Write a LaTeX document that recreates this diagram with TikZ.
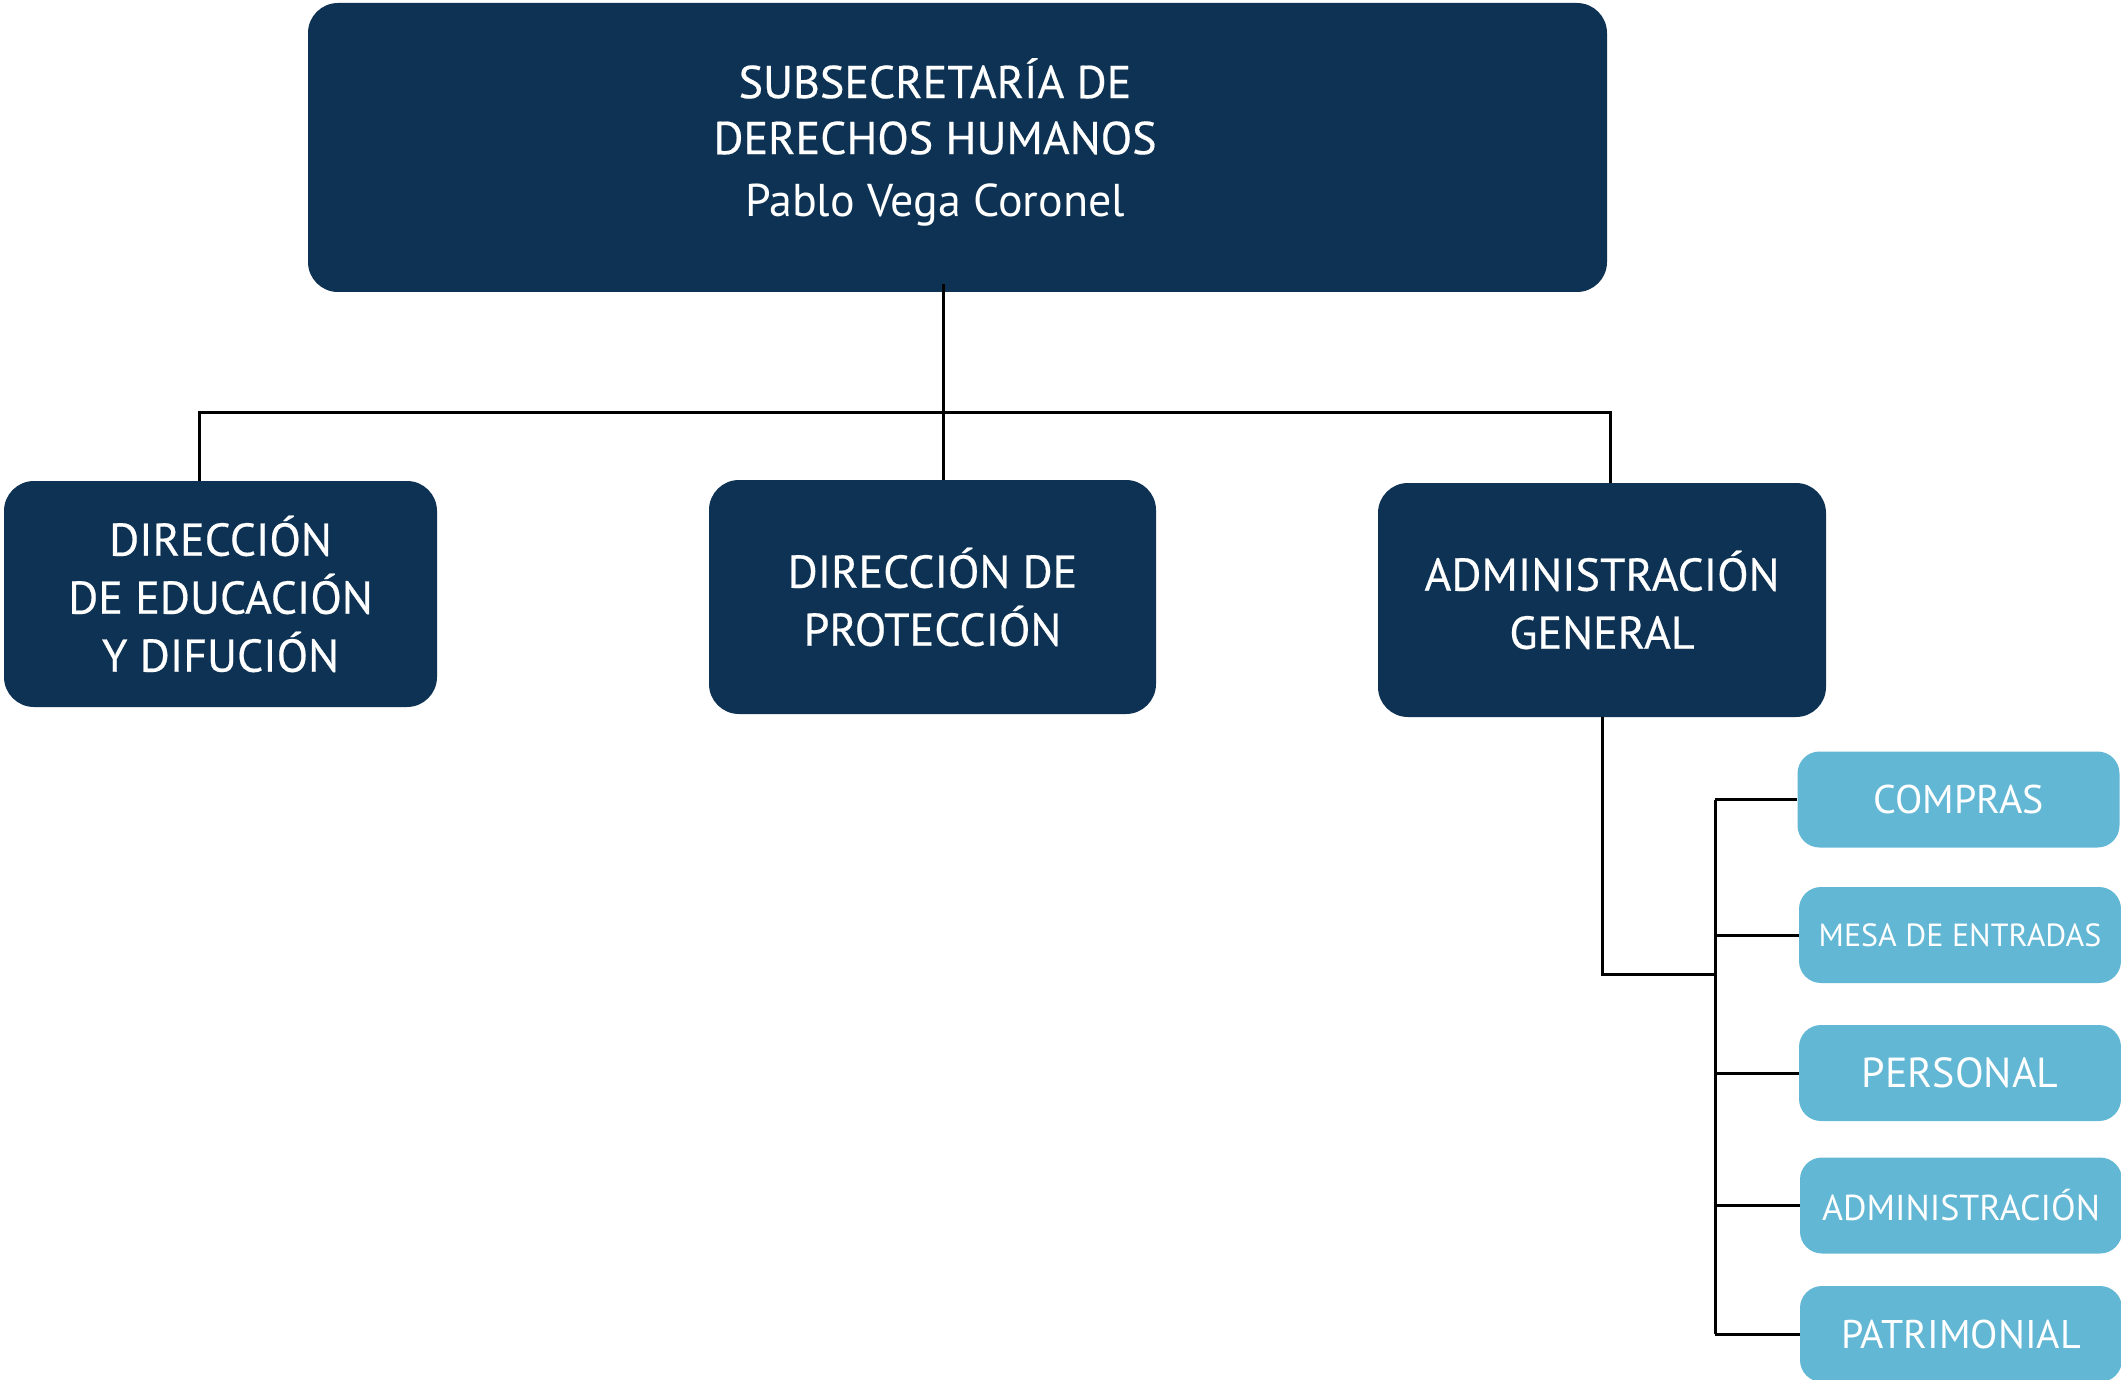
\documentclass[tikz,border=0pt]{standalone}
\usepackage{fontspec}
\setmainfont{PT Sans}
\newfontfamily\headfont[FakeBold=0.4]{PT Sans}
\definecolor{navy}{HTML}{0D3253}
\definecolor{sky}{HTML}{62B7D4}
\begin{document}
\begin{tikzpicture}[
        x=0.5pt, y=-0.5pt,
        head/.style={rectangle, fill=navy, rounded corners=15pt, text=white, align=center, font=\headfont\fontsize{23}{29}\selectfont},
        unit/.style={rectangle, fill=sky, rounded corners=11pt, text=white, minimum width=161pt, minimum height=48pt},
        link/.style={black, line width=1.5pt}
    ]
    \useasboundingbox (0,0) rectangle (2121,1380);
    % Top
    \node (sub) at (957.5,147.5) [head, minimum width=649.5pt, minimum height=144.5pt] {};
    \node (subtxt) at (935,142) [text=white, align=center, font=\headfont\fontsize{23}{28}\selectfont] {SUBSECRETARÍA DE\\DERECHOS HUMANOS\\[3pt]{\normalfont Pablo Vega Coronel}};

    % Direcciones
    \node (edu) at (220.5,594) [head, minimum width=216.5pt, minimum height=113pt] {DIRECCIÓN\\DE EDUCACIÓN\\Y DIFUCIÓN};
    \node (prot) at (932.5,597) [head, minimum width=223.5pt, minimum height=117pt] {DIRECCIÓN DE\\PROTECCIÓN};
    \node (adm) at (1602,600) [head, minimum width=224pt, minimum height=117pt] {ADMINISTRACIÓN\\GENERAL};

    % Areas
    \node (compras) at (1958.5,799.5) [unit, font=\fontsize{20}{24}\selectfont] {COMPRAS};
    \node (mesa) at (1960,935) [unit, font=\fontsize{16}{19}\selectfont] {MESA DE ENTRADAS};
    \node (pers) at (1960,1073) [unit, font=\fontsize{21}{25}\selectfont] {PERSONAL};
    \node (admin) at (1961,1205.5) [unit, font=\fontsize{18}{22}\selectfont] {ADMINISTRACIÓN};
    \node (patri) at (1961,1334) [unit, font=\fontsize{20}{24}\selectfont] {PATRIMONIAL};

    % Connectors
    \coordinate (hub) at (943,412);
    \coordinate (tapL) at (199,412);
    \coordinate (tapR) at (1610,412);
    \coordinate (trunk) at (1715,974);
    \draw[link] ([yshift=4pt]sub.south -| hub) -- (prot.north -| hub);
    \draw[link] (edu.north -| tapL) -- (tapL) -- (tapR) -- (adm.north -| tapR);
    \draw[link] (adm.south) |- (trunk);
    \draw[link] (trunk |- compras.west) -- (trunk |- patri.west);
    \foreach \b in {compras, mesa, pers, admin, patri}
        \draw[link] (trunk |- \b.west) -- (\b.west);
\end{tikzpicture}
\end{document}
